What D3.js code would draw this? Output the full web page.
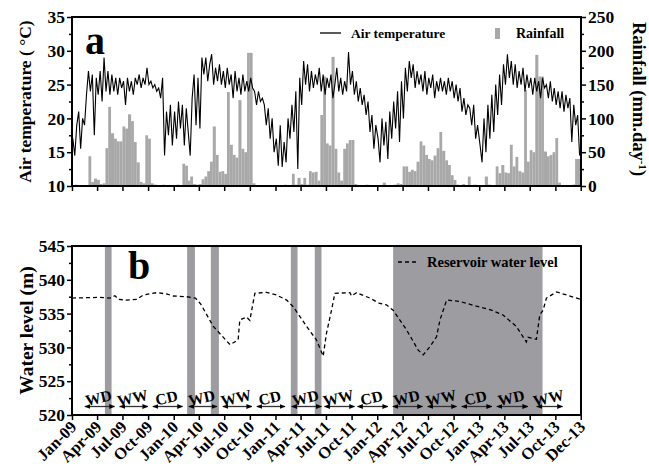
<!DOCTYPE html>
<html>
<head>
<meta charset="utf-8">
<script src="https://cdn.jsdelivr.net/npm/d3@7"></script>
<style>
body { margin: 0; background: #fff; }
svg text { font-family: "Liberation Serif", "Times New Roman", serif; font-weight: bold; fill: #000; }
</style>
</head>
<body>
<div id="chart"></div>
<script>
// weekly air temperature (deg C), one row per year
var temp2009 = [17,14.5,19,21,15.5,20,19,23.5,27,24,26.5,17.5,26,23.5,27,22.5,29,24,27,23.5,26.5,24,26,23.5,26,24.5,25.5,22,26,24,25.5,23.5,26,25,26.5,24.5,26,25,27.5,25,25.5,24.5,25,24,24.5,23,26,14.5,21,17.5,22,16];
var temp2010 = [21,17,22.5,18.5,22,16,21.5,18,14.5,23,26.5,19,26,18.5,29,26.5,29,25.5,28,29.5,25,27.5,25.5,28,25,27,24.5,27.5,25,26.5,23,27,24,26,23.5,26.5,24,25.5,24,26,24.5,24,22,24,22.5,23,22,19,21.5,17,20,15];
var temp2011 = [17,13,19,12.8,16.5,13.5,20,17,22,18,24,12.5,26,22,28.5,25,28,24,27,24.5,26.5,25,27.5,24,26.5,23.5,26,24.5,26.5,23,25,27.5,24,26,23.5,25.5,24,29.8,25,27,23.5,25.5,22.5,24.5,22,23.5,20.5,22.5,18,20.5,15.5,19];
var temp2012 = [17,13.5,20,16,19.5,14,21,17,22.5,18.5,24,16.5,25.5,20,27.5,24,28.5,26,28,24.5,27,25,26.5,24,27,23.5,26,24.5,26.5,23,25.5,24,26,24,25.5,23.5,26,24,25.5,23,25,22.5,24.5,21,23,20.5,22,21.5,19,22,17,19];
var temp2013 = [16,13.5,20,15,22,17,23.5,18,25,20.5,26.5,22,28,25,29.5,26,28.5,25,28,24.5,27,25,27.5,24,26.5,24.5,26,23.5,26,24,25.5,23,26,24.5,25,23,25.5,22.5,24.5,22,24,21.5,24,21,23.5,21.5,23,16.5,22,19,20.5,14.5];

// rainfall per dekad (mm), 36 per year
var rain2009 = [0,2,0,1,0,1,44,6,11,9,3,4,56,117,78,70,66,66,88,85,106,96,65,35,6,4,75,70,4,2,1,0,2,1,0,1];
var rain2010 = [1,2,1,33,30,8,14,3,2,3,10,14,22,36,88,46,21,22,18,139,61,46,42,127,55,50,197,197,4,1,0,0,1,0,1,0];
var rain2011 = [0,1,0,2,1,0,18,2,12,3,12,2,22,20,21,8,105,162,63,60,191,55,20,8,55,63,68,68,3,1,0,0,2,0,0,1];
var rain2012 = [0,1,5,0,1,0,2,4,3,29,29,21,24,22,36,66,60,46,40,38,45,56,80,52,38,31,16,9,2,1,3,1,14,0,2,1];
var rain2013 = [1,0,14,2,1,0,29,19,31,20,19,61,29,43,22,20,142,36,53,50,194,162,162,51,44,46,50,71,5,1,0,0,1,2,40,40];

// reservoir water level (m)
var levelDates = ["2009-01-01","2009-04-11","2009-05-17","2009-06-04","2009-06-16","2009-07-16","2009-08-21","2009-09-14","2009-11-01","2009-12-07","2009-12-30",
  "2010-02-16","2010-03-20","2010-04-08","2010-05-23","2010-07-22","2010-08-20","2010-08-26","2010-09-19","2010-10-01","2010-10-19","2010-11-30",
  "2011-01-05","2011-02-10","2011-03-06","2011-04-23","2011-05-28","2011-06-21","2011-07-03","2011-07-21","2011-08-02","2011-09-25","2011-10-01","2011-10-19","2011-12-05",
  "2012-01-10","2012-02-03","2012-02-27","2012-04-15","2012-05-27","2012-06-14","2012-07-08","2012-08-01","2012-08-13","2012-09-06","2012-10-23","2012-12-22",
  "2013-02-08","2013-03-27","2013-05-14","2013-06-19","2013-06-25","2013-07-25","2013-08-06","2013-08-18","2013-08-30","2013-10-05","2013-11-10","2013-12-31"];
var levelValues = [537.3,537.4,537.3,537.65,537.1,537.0,537.1,537.75,538.1,537.9,537.6,
  537.5,537.3,536.4,533.1,530.4,531.1,534.05,534.5,534.0,538.0,538.15,
  537.75,537.0,536.0,533.1,531.1,528.7,532.1,535.5,538.0,538.1,537.6,538.1,537.3,
  536.5,536.3,535.5,532.6,529.6,528.9,530.1,531.6,534.05,537.0,536.8,536.1,
  535.6,534.8,533.1,530.8,531.5,531.2,534.8,535.5,537.3,538.2,537.75,537.1];

// shaded periods
var bandStart = ["2009-04-29","2010-02-18","2010-05-14","2011-02-25","2011-05-22","2012-02-27"];
var bandEnd   = ["2009-05-23","2010-03-18","2010-06-12","2011-03-21","2011-06-15","2013-08-16"];

// seasons
var seasonNames = ["WD","WW","CD","WD","WW","CD","WD","WW","CD","WD","WW","CD","WD","WW"];
var seasonStart = ["2009-02-16","2009-06-21","2009-10-18","2010-02-24","2010-06-26","2010-10-26","2011-02-28","2011-06-26","2011-10-22","2012-02-26","2012-06-30","2012-10-30","2013-03-05","2013-07-26"];
var seasonEnd   = ["2009-06-03","2009-09-30","2010-02-02","2010-06-05","2010-10-08","2011-02-04","2011-06-15","2011-10-12","2012-02-08","2012-06-12","2012-10-12","2013-02-15","2013-06-24","2013-10-27"];

var tickDates = ["2009-01-01","2009-04-01","2009-07-01","2009-10-01","2010-01-01","2010-04-01","2010-07-01","2010-10-01","2011-01-01","2011-04-01","2011-07-01","2011-10-01","2012-01-01","2012-04-01","2012-07-01","2012-10-01","2013-01-01","2013-04-01","2013-07-01","2013-10-01","2013-12-31"];
var tickLabels = ["Jan-09","Apr-09","Jul-09","Oct-09","Jan-10","Apr-10","Jul-10","Oct-10","Jan-11","Apr-11","Jul-11","Oct-11","Jan-12","Apr-12","Jul-12","Oct-12","Jan-13","Apr-13","Jul-13","Oct-13","Dec-13"];

var years = [2009, 2010, 2011, 2012, 2013];
var tempRows = [temp2009, temp2010, temp2011, temp2012, temp2013];
var rainRows = [rain2009, rain2010, rain2011, rain2012, rain2013];

var width = 649, height = 468;
var left = 72, right = 581;
var topA = 17, botA = 186, topB = 246, botB = 415;
var font = '"Liberation Serif", "Times New Roman", serif';

var parse = d3.timeParse("%Y-%m-%d");

var tempPoints = [];
years.forEach(function(yr, r) {
  tempRows[r].forEach(function(v, k) {
    tempPoints.push({ date: d3.timeDay.offset(new Date(yr, 0, 4), 7 * k), value: v });
  });
});

var rainBins = [];
var dekadDay = [1, 11, 21];
years.forEach(function(yr, r) {
  rainRows[r].forEach(function(v, j) {
    var m = Math.floor(j / 3), k = j % 3;
    var start = new Date(yr, m, dekadDay[k]);
    var end = k < 2 ? new Date(yr, m, dekadDay[k + 1]) : new Date(yr, m + 1, 1);
    rainBins.push({ start: start, end: end, value: v });
  });
});

var levelPoints = levelDates.map(function(d, i) { return { date: parse(d), value: levelValues[i] }; });

var x = d3.scaleTime()
  .domain([new Date(2009, 0, 1), new Date(2014, 0, 1)])
  .range([left, right]);
var yT = d3.scaleLinear().domain([10, 35]).range([botA, topA]);
var yR = d3.scaleLinear().domain([0, 250]).range([botA, topA]);
var yW = d3.scaleLinear().domain([520, 545]).range([botB, topB]);

var svg = d3.select("#chart").append("svg")
  .attr("width", width)
  .attr("height", height);

function styleAxis(g, size) {
  g.attr("font-family", font).attr("font-size", size);
  g.select(".domain").remove();
  g.selectAll(".tick line").attr("stroke", "#000").attr("stroke-width", 1.5);
  g.selectAll(".tick text").attr("font-weight", "bold").attr("fill", "#000");
}

// ---------- panel a ----------
var pa = svg.append("g");

pa.selectAll("rect.rain")
  .data(rainBins)
  .enter().append("rect")
  .attr("class", "rain")
  .attr("x", function(d) { return x(d.start); })
  .attr("width", function(d) { return Math.max(0, Math.min(x(d.end), right) - x(d.start)); })
  .attr("y", function(d) { return yR(d.value); })
  .attr("height", function(d) { return botA - yR(d.value); })
  .attr("fill", "#a8a8a9");

var tempLine = d3.line()
  .x(function(d) { return x(d.date); })
  .y(function(d) { return yT(d.value); });

pa.append("path")
  .datum(tempPoints)
  .attr("d", tempLine)
  .attr("fill", "none")
  .attr("stroke", "#000")
  .attr("stroke-width", 1.1)
  .attr("stroke-linejoin", "miter");

pa.append("g").attr("transform", "translate(" + left + ",0)")
  .call(d3.axisLeft(yT).tickValues(d3.range(10, 36, 5)).tickSize(5).tickPadding(2))
  .call(styleAxis, 17.5);
pa.append("g").attr("transform", "translate(" + left + ",0)")
  .call(d3.axisLeft(yT).tickValues(d3.range(12.5, 35, 5)).tickSize(3).tickFormat(""))
  .call(styleAxis, 17);
pa.append("g").attr("transform", "translate(" + right + ",0)")
  .call(d3.axisRight(yR).tickValues(d3.range(0, 251, 50)).tickSize(5).tickPadding(2))
  .call(styleAxis, 17.5);
pa.append("g").attr("transform", "translate(" + right + ",0)")
  .call(d3.axisRight(yR).tickValues(d3.range(25, 250, 50)).tickSize(3).tickFormat(""))
  .call(styleAxis, 17);
pa.append("g").attr("transform", "translate(0," + botA + ")")
  .call(d3.axisBottom(x).tickValues(tickDates.map(parse)).tickSize(5).tickFormat(""))
  .call(styleAxis, 17);

pa.append("rect")
  .attr("x", left).attr("y", topA)
  .attr("width", right - left).attr("height", botA - topA)
  .attr("fill", "none").attr("stroke", "#000").attr("stroke-width", 2);

pa.append("text").attr("x", 85).attr("y", 54).attr("font-size", 40).text("a");

// legend a
pa.append("line").attr("x1", 320).attr("x2", 341).attr("y1", 33).attr("y2", 33)
  .attr("stroke", "#000").attr("stroke-width", 1.3);
pa.append("text").attr("x", 351).attr("y", 38).attr("font-size", 13.5).text("Air temperature");
pa.append("rect").attr("x", 495).attr("y", 28).attr("width", 5).attr("height", 11).attr("fill", "#a8a8a9");
pa.append("text").attr("x", 516).attr("y", 38).attr("font-size", 14).text("Rainfall");

pa.append("text")
  .attr("transform", "translate(31," + ((topA + botA) / 2) + ") rotate(-90)")
  .attr("text-anchor", "middle")
  .attr("font-size", 17.5)
  .text("Air temperature ( \u00B0C)");

var rl = pa.append("text")
  .attr("transform", "translate(633,99) rotate(90)")
  .attr("text-anchor", "middle")
  .attr("font-size", 18.5);
rl.append("tspan").text("Rainfall (mm.day");
rl.append("tspan").attr("font-size", 11).attr("dy", -6).text("-1");
rl.append("tspan").attr("dy", 6).text(")");

// ---------- panel b ----------
var pb = svg.append("g");

pb.selectAll("rect.band")
  .data(bandStart)
  .enter().append("rect")
  .attr("class", "band")
  .attr("x", function(d) { return x(parse(d)); })
  .attr("width", function(d, i) { return x(parse(bandEnd[i])) - x(parse(d)); })
  .attr("y", topB)
  .attr("height", botB - topB)
  .attr("fill", "#9d9ca1");

var levelLine = d3.line()
  .x(function(d) { return x(d.date); })
  .y(function(d) { return yW(d.value); });

pb.append("path")
  .datum(levelPoints)
  .attr("d", levelLine)
  .attr("fill", "none")
  .attr("stroke", "#000")
  .attr("stroke-width", 1.3)
  .attr("stroke-dasharray", "4,3");

// season arrows
var defs = svg.append("defs");
defs.append("marker")
  .attr("id", "head")
  .attr("viewBox", "0 0 10 10")
  .attr("refX", 9).attr("refY", 5)
  .attr("markerWidth", 6).attr("markerHeight", 6)
  .attr("markerUnits", "userSpaceOnUse")
  .attr("orient", "auto-start-reverse")
  .append("path").attr("d", "M0,1 L10,5 L0,9 Z").attr("fill", "#000");

var arrowY = 406.5;
pb.selectAll("line.season")
  .data(seasonNames)
  .enter().append("line")
  .attr("class", "season")
  .attr("x1", function(d, i) { return x(parse(seasonStart[i])); })
  .attr("x2", function(d, i) { return x(parse(seasonEnd[i])); })
  .attr("y1", arrowY).attr("y2", arrowY)
  .attr("stroke", "#333")
  .attr("stroke-width", 1.3)
  .attr("marker-start", "url(#head)")
  .attr("marker-end", "url(#head)");

pb.selectAll("text.season")
  .data(seasonNames)
  .enter().append("text")
  .attr("class", "season")
  .attr("font-size", 15.5)
  .attr("text-anchor", "middle")
  .attr("transform", function(d, i) {
    var cx = (x(parse(seasonStart[i])) + x(parse(seasonEnd[i]))) / 2;
    return "translate(" + cx + ",403) rotate(-13)";
  })
  .text(function(d) { return d; });

pb.append("g").attr("transform", "translate(" + left + ",0)")
  .call(d3.axisLeft(yW).tickValues(d3.range(520, 546, 5)).tickSize(5).tickPadding(2))
  .call(styleAxis, 17.5);
pb.append("g").attr("transform", "translate(" + left + ",0)")
  .call(d3.axisLeft(yW).tickValues(d3.range(522.5, 545, 5)).tickSize(3).tickFormat(""))
  .call(styleAxis, 17);

var xb = pb.append("g").attr("transform", "translate(0," + botB + ")")
  .call(d3.axisBottom(x).tickValues(tickDates.map(parse)).tickSize(5)
    .tickFormat(function(d, i) { return tickLabels[i]; }))
  .call(styleAxis, 16.5);
xb.selectAll(".tick text")
  .attr("text-anchor", "end")
  .attr("dx", 0).attr("dy", 0)
  .attr("y", 0)
  .attr("transform", "translate(5,13) rotate(-45)");

pb.append("rect")
  .attr("x", left).attr("y", topB)
  .attr("width", right - left).attr("height", botB - topB)
  .attr("fill", "none").attr("stroke", "#000").attr("stroke-width", 2);

pb.append("text").attr("x", 128).attr("y", 279).attr("font-size", 40).text("b");

pb.append("line").attr("x1", 398).attr("x2", 419).attr("y1", 262).attr("y2", 262)
  .attr("stroke", "#000").attr("stroke-width", 1.3).attr("stroke-dasharray", "4,3");
pb.append("text").attr("x", 427).attr("y", 267).attr("font-size", 14.5).text("Reservoir water level");

pb.append("text")
  .attr("transform", "translate(33," + ((topB + botB) / 2) + ") rotate(-90)")
  .attr("text-anchor", "middle")
  .attr("font-size", 19.5)
  .text("Water level (m)");
</script>
</body>
</html>
